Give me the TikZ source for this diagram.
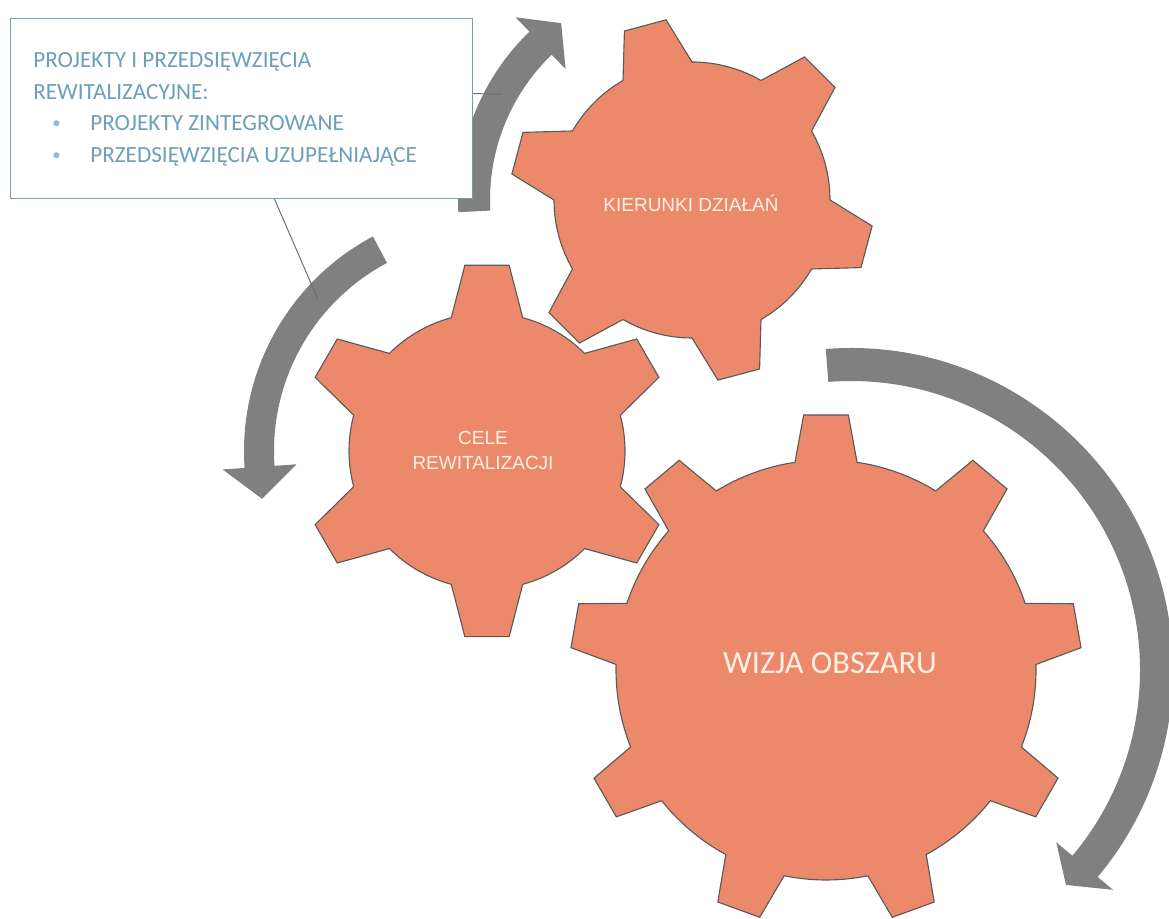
\documentclass[tikz,border=0pt]{standalone}
\usepackage{fontspec}
\setmainfont{Carlito}
\newfontfamily\arialf{Liberation Sans}
\usetikzlibrary{calc}
\definecolor{gearfill}{RGB}{236,137,106}
\definecolor{gearline}{RGB}{90,90,90}
\definecolor{arrowgray}{RGB}{128,128,128}
\definecolor{boxline}{RGB}{125,155,170}
\definecolor{textblue}{RGB}{110,158,184}
\definecolor{bulletblue}{RGB}{150,185,205}
\definecolor{connline}{RGB}{95,115,125}
\definecolor{geartext}{RGB}{255,242,228}
\newcommand\drawgear[8]{% cx, cy, R, r, n, first angle, tip half-angle, base half-angle
  \begin{scope}[shift={(#1,#2)}]
    \pgfmathsetmacro\gs{360/#5}
    \draw[gearshape] ({#6-#8}:#4)
      \foreach \k in {1,...,#5}{
        -- ({#6+(\k-1)*\gs-#7}:#3) -- ({#6+(\k-1)*\gs+#7}:#3) -- ({#6+(\k-1)*\gs+#8}:#4)
        arc[start angle={#6+(\k-1)*\gs+#8}, end angle={#6+\k*\gs-#8}, radius=#4]
      } -- cycle;
  \end{scope}}
\begin{document}
\begin{tikzpicture}[x=0.025cm,y=0.025cm,
  gearshape/.style={fill=gearfill,draw=gearline,line width=0.8pt,line join=miter},
  arrowshape/.style={fill=arrowgray},
  conn/.style={draw=connline,line width=0.7pt},
  boxstyle/.style={draw=boxline,line width=0.8pt,fill=white,minimum width=11.55cm,minimum height=4.5cm,inner sep=0pt},
  boxtext/.style={text=textblue,font=\fontsize{16.5}{22.4}\selectfont,anchor=base west,inner sep=0pt},
  bulletmark/.style={text=bulletblue,font=\fontsize{12}{14}\selectfont,anchor=base west,inner sep=0pt},
  smalllabel/.style={text=geartext,font=\arialf\fontsize{13.5}{17.8}\selectfont,align=center},
  biglabel/.style={text=geartext,font=\fontsize{23}{27}\selectfont}]
\useasboundingbox (0,0) rectangle (1169,919);

% gears
\drawgear{826}{249}{256}{210}{9}{90}{5}{8.5}
\drawgear{487}{468}{187}{138}{6}{30}{6.8}{15}
\drawgear{692}{719}{182}{138}{6}{45}{6.8}{15}

% arrows
\begin{scope}[shift={(851,249)}]
  \fill[arrowshape] (94.5:322) arc[start angle=94.5,end angle=-40,radius=322]
    -- (-40:342) -- (-45:304) -- (-40:268) -- (-40:289)
    arc[start angle=-40,end angle=94.5,radius=289] -- cycle;
\end{scope}
\begin{scope}[shift={(692,719)}]
  \fill[arrowshape] (183:234) arc[start angle=183,end angle=134,radius=234]
    -- (134:254) -- (126.5:220) -- (134:182) -- (134:202)
    arc[start angle=134,end angle=183,radius=202] -- cycle;
\end{scope}
\begin{scope}[shift={(487,468)}]
  \fill[arrowshape] (118:213) arc[start angle=118,end angle=184,radius=213]
    -- (184:191) -- (192:230) -- (184:265) -- (184:243)
    arc[start angle=184,end angle=118,radius=243] -- cycle;
\end{scope}

% gear labels
\node[smalllabel] (kier) at (691,716) {KIERUNKI DZIAŁAŃ};
\node[smalllabel] (cele) at (483,469) {CELE\\REWITALIZACJI};
\node[biglabel] (wizja) at (830,256) {WIZJA OBSZARU};

% callout box
\node[boxstyle,anchor=north west] (box) at (10,901) {};
\node[boxtext] (t1) at (33,851.5) {PROJEKTY I PRZEDSIĘWZIĘCIA};
\node[boxtext] (t2) at (33,819.5) {REWITALIZACYJNE:};
\node[bulletmark] (b1) at (52,790) {•};
\node[boxtext] (t3) at (90,788.5) {PROJEKTY ZINTEGROWANE};
\node[bulletmark] (b2) at (52,758) {•};
\node[boxtext] (t4) at (90,756.5) {PRZEDSIĘWZIĘCIA UZUPEŁNIAJĄCE};

% connectors
\coordinate (pcele) at ($(487,468)+(138:228)$);
\coordinate (pkier) at ($(692,719)+(151:218)$);
\draw[conn] ($(box.south west)!0.571!(box.south east)$) -- (pcele);
\draw[conn] ($(box.north east)!0.417!(box.south east)$) -- (pkier);
\end{tikzpicture}
\end{document}
